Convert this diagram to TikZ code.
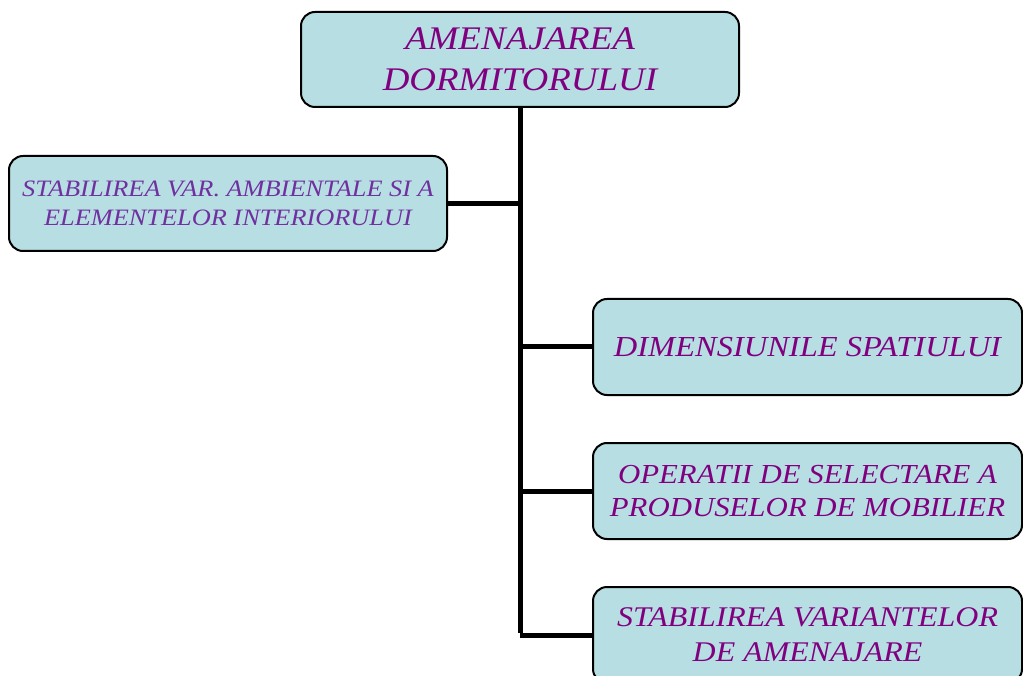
\documentclass[tikz,border=0pt]{standalone}
\usepackage{fontspec}
\setmainfont{Liberation Serif}[FakeStretch=1.12]
\definecolor{boxfill}{RGB}{183,222,226}
\definecolor{txtpurple}{RGB}{128,0,128}
\definecolor{txtviolet}{RGB}{112,48,160}
\begin{document}
\begin{tikzpicture}[x=1pt,y=-1pt,
  box/.style={draw=black,line width=2pt,fill=boxfill,rounded corners=14pt,
    align=center,inner sep=0pt,font=\itshape},
  conn/.style={line width=5pt,draw=black}]
\useasboundingbox (0,0) rectangle (1023,676);
\begin{scope}
\clip (0,0) rectangle (1023,676);
\node[box,minimum width=438pt,minimum height=95pt,text=txtpurple,
  font=\itshape\fontsize{33}{41}\selectfont] (top) at (520,59.5)
  {AMENAJAREA\\DORMITORULUI};
\node[box,minimum width=438pt,minimum height=95pt,text=txtviolet,
  font=\itshape\fontsize{23.5}{29}\selectfont] (left) at (228,203.5)
  {STABILIREA VAR. AMBIENTALE SI A\\ELEMENTELOR INTERIORULUI};
\node[box,minimum width=429pt,minimum height=96pt,text=txtpurple,
  font=\itshape\fontsize{29}{33}\selectfont] (r1) at (807.5,347)
  {DIMENSIUNILE SPATIULUI};
\node[box,minimum width=429pt,minimum height=96pt,text=txtpurple,
  font=\itshape\fontsize{27.5}{33}\selectfont] (r2) at (807.5,491)
  {OPERATII DE SELECTARE A\\PRODUSELOR DE MOBILIER};
\node[box,minimum width=429pt,minimum height=96pt,text=txtpurple,
  font=\itshape\fontsize{28.5}{35}\selectfont] (r3) at (807.5,635)
  {STABILIREA VARIANTELOR\\DE AMENAJARE};
\coordinate (j0) at (520,203.5);
\coordinate (j1) at (520,347);
\coordinate (j2) at (520,491);
\coordinate (j3) at (520,635);
\draw[conn] (top.south) -- ([yshift=2.5pt]j3);
\draw[conn] (j0) -- (left.east);
\draw[conn] (j1) -- (r1.west);
\draw[conn] (j2) -- (r2.west);
\draw[conn] (j3) -- (r3.west);
\end{scope}
\end{tikzpicture}
\end{document}
